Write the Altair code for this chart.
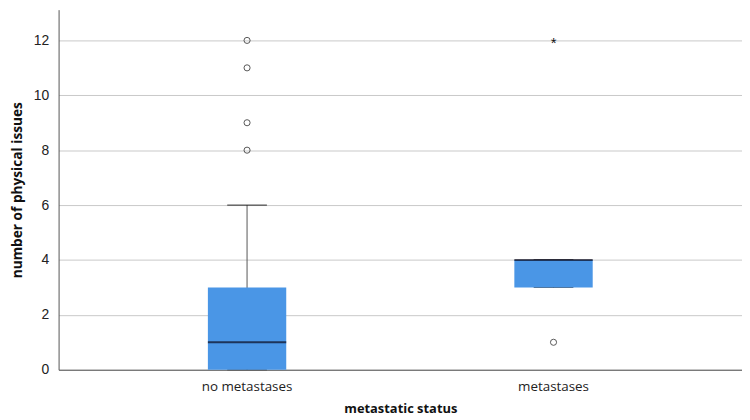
import altair as alt
import pandas as pd

categories = ["no metastases", "metastases"]
q1 = [0, 3]
median = [1, 4]
q3 = [3, 4]
whisker_lo = [0, 3]
whisker_hi = [6, 4]
outlier_cat = ["no metastases", "no metastases", "no metastases", "no metastases", "metastases"]
outlier_val = [8, 9, 11, 12, 1]
extreme_cat = ["metastases"]
extreme_val = [12]

box = pd.DataFrame({"cat": categories, "q1": q1, "median": median, "q3": q3,
                    "lo": whisker_lo, "hi": whisker_hi})
out = pd.DataFrame({"cat": outlier_cat, "v": outlier_val})
ext = pd.DataFrame({"cat": extreme_cat, "v": extreme_val})

xscale = alt.Scale(domain=categories, paddingInner=0, paddingOuter=0.115)
yscale = alt.Scale(domain=[0, 13.12], nice=False)

xaxis = alt.Axis(title="metastatic status", labelAngle=0, ticks=False,
                 labelFont="Open Sans", labelFontSize=13.5, labelColor="#222",
                 labelPadding=10, titleFont="Open Sans", titleFontSize=13,
                 titleFontWeight="bold", titleColor="#111", titlePadding=10,
                 domainColor="#555", grid=False)
yaxis = alt.Axis(title="number of physical issues", values=[0, 2, 4, 6, 8, 10, 12],
                 ticks=False, labelFont="Liberation Sans", labelFontSize=14,
                 labelColor="#222", labelPadding=10, titleFont="Open Sans",
                 titleFontSize=13.8, titleFontWeight="bold", titleColor="#111",
                 titlePadding=9, domainColor="#555", gridColor="#c8c8c8")


def X():
    return alt.X("cat:N", scale=xscale, sort=categories, axis=xaxis)


def Y(field):
    return alt.Y(field, scale=yscale, axis=yaxis)


base = alt.Chart(box)

bars = base.mark_bar(color="#4a96e6", size=79).encode(x=X(), y=Y("q1:Q"), y2="q3:Q")
whisk = base.mark_rule(color="#555", strokeWidth=1).encode(x=X(), y=Y("lo:Q"), y2="hi:Q")
capt = base.mark_tick(color="#111", size=40, thickness=1.2, orient="horizontal").encode(
    x=X(), y=Y("hi:Q"))
capb = base.mark_tick(color="#111", size=40, thickness=1.2, orient="horizontal").encode(
    x=X(), y=Y("lo:Q"))
med = base.mark_tick(color="#0a0a1e", size=79, thickness=2, orient="horizontal").encode(
    x=X(), y=Y("median:Q"))
pts = alt.Chart(out).mark_point(shape="circle", size=38, filled=False, color="#111",
                                strokeWidth=1).encode(x=X(), y=Y("v:Q"))
stars = alt.Chart(ext).mark_text(text="*", fontSize=15, color="#111", dy=3,
                                 font="Liberation Sans").encode(x=X(), y=Y("v:Q"))

chart = alt.layer(whisk, capt, capb, bars, med, pts, stars).properties(
    width=689, height=363,
    autosize=alt.AutoSizeParams(type="none"),
    padding={"left": 51, "top": 0, "right": 0, "bottom": 49},
).configure_view(stroke=None)

chart.save("out.html", embed_options={"renderer": "svg", "actions": False})
